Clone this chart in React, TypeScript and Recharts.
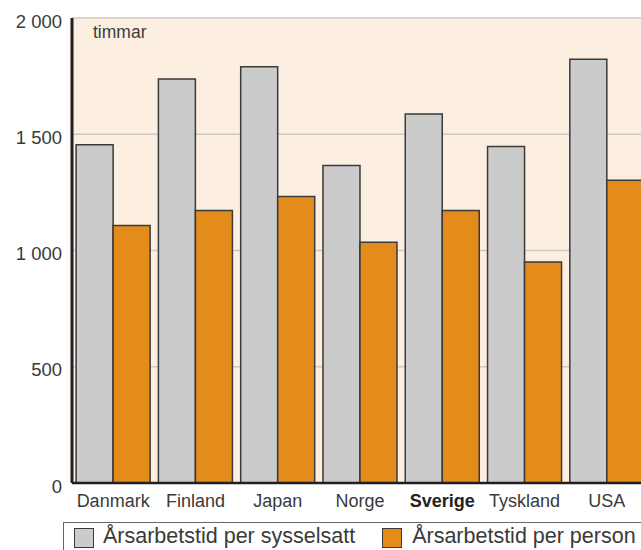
import React from 'react';
import { BarChart, Bar, XAxis, YAxis, CartesianGrid, Legend, ReferenceLine } from 'recharts';

const countries = ['Danmark', 'Finland', 'Japan', 'Norge', 'Sverige', 'Tyskland', 'USA'];
const perSysselsatt = [1455, 1738, 1790, 1366, 1587, 1447, 1823];
const perPerson = [1107, 1172, 1232, 1035, 1172, 951, 1302];
const yTicks = [0, 500, 1000, 1500, 2000];

const data = countries.map((c, i) => ({
  country: c,
  sysselsatt: perSysselsatt[i],
  person: perPerson[i],
}));

const FONT = '"Liberation Sans", Arial, sans-serif';
const TEXT = '#3a3a3a';
const GRAY = '#cbcbcb';
const ORANGE = '#e38b1b';
const EDGE = '#3a3a3a';

// "2000" -> "2 000"
const fmt = (v: number) => (v >= 1000 ? String(v).replace(/(\d)(\d{3})$/, '$1 $2') : String(v));

const CountryTick = (props: any) => {
  const { x, y, payload } = props;
  const bold = payload.value === 'Sverige';
  return (
    <text x={x} y={y + 16} textAnchor="middle" fontFamily={FONT} fontSize={18}
      fontWeight={bold ? 'bold' : 'normal'} fill={bold ? '#222' : TEXT}>
      {payload.value}
    </text>
  );
};

const LegendBox = () => (
  <div style={{ height: 37, position: 'relative', fontFamily: FONT, fontSize: 21.5, color: TEXT }}>
    <div style={{
      position: 'absolute', left: 63, top: 9, width: 700, height: 40,
      border: '1.5px solid #666', boxSizing: 'border-box', display: 'flex', alignItems: 'flex-start',
    }}>
      <span style={{ display: 'inline-block', width: 18, height: 18, background: GRAY, border: `1.5px solid ${EDGE}`, marginLeft: 10, marginTop: 5 }} />
      <span style={{ marginLeft: 9, lineHeight: '26px' }}>Årsarbetstid per sysselsatt</span>
      <span style={{ display: 'inline-block', width: 18, height: 18, background: ORANGE, border: `1.5px solid ${EDGE}`, marginLeft: 27, marginTop: 5 }} />
      <span style={{ marginLeft: 10, lineHeight: '26px' }}>Årsarbetstid per person</span>
    </div>
  </div>
);

export default function App() {
  return (
    <div style={{ position: 'absolute', left: 0, top: 0, width: 641, height: 550, overflow: 'hidden', background: '#fff' }}>
      <BarChart width={648} height={550} data={data}
        margin={{ top: 18, right: 0, left: 0, bottom: 0 }}
        barCategoryGap="5%" barGap={0}>
        <CartesianGrid vertical={false} fill="#fcefe1" stroke="#cfc8c0" strokeWidth={1.5} />
        <XAxis dataKey="country" height={30} tickLine={false} axisLine={{ stroke: '#231f20', strokeWidth: 2.5 }}
          tick={<CountryTick />} interval={0} />
        <YAxis width={72} domain={[0, 2000]} ticks={yTicks} tickFormatter={fmt} tickLine={false}
          tickMargin={4} axisLine={{ stroke: '#231f20', strokeWidth: 3 }}
          tick={{ fontFamily: FONT, fontSize: 18.5, fill: TEXT, dy: 3 }} />
        <ReferenceLine y={2000} stroke="none"
          label={{ content: (p: any) => (
            <text x={p.viewBox.x + 21} y={p.viewBox.y + 20} fontFamily={FONT} fontSize={17.5} fill={TEXT}>timmar</text>
          ) }} />
        <Legend verticalAlign="bottom" content={<LegendBox />} wrapperStyle={{ left: 0, width: 648 }} />
        <Bar dataKey="sysselsatt" name="Årsarbetstid per sysselsatt" fill={GRAY} stroke={EDGE} strokeWidth={1.5} isAnimationActive={false} />
        <Bar dataKey="person" name="Årsarbetstid per person" fill={ORANGE} stroke={EDGE} strokeWidth={1.5} isAnimationActive={false} />
      </BarChart>
    </div>
  );
}
